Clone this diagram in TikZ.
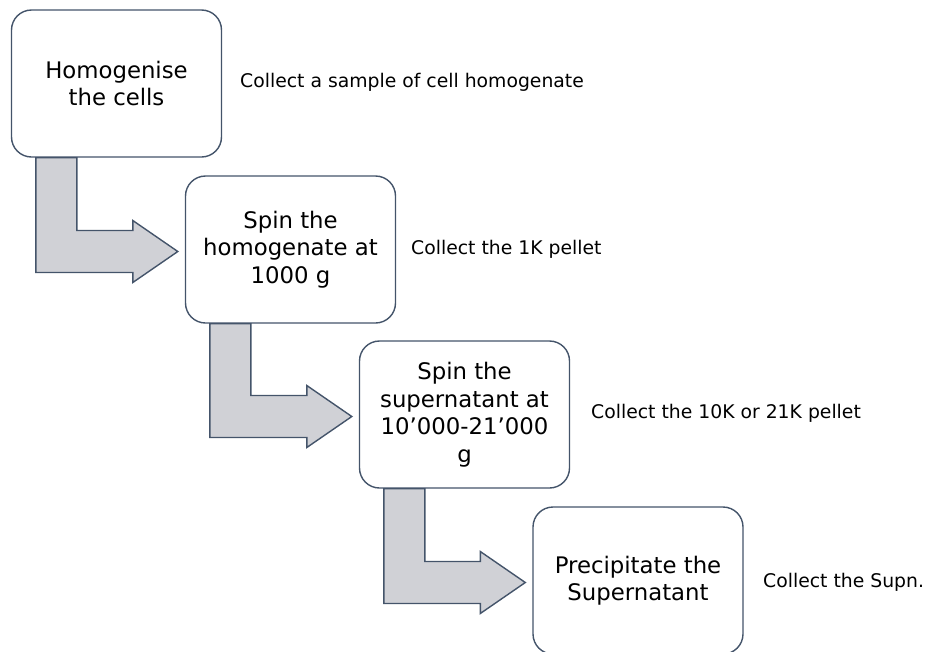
\documentclass[tikz,border=0pt]{standalone}
\usepackage{fontspec}
\setmainfont{DejaVu Sans}
\usetikzlibrary{calc}
\definecolor{edge}{HTML}{44546A}
\definecolor{arrowfill}{HTML}{D0D1D6}
\definecolor{ink}{HTML}{000000}
\tikzset{
  stepbox/.style={draw=edge, line width=1.4pt, fill=white, rounded corners=20pt,
    minimum width=210pt, minimum height=147pt, align=center, text=ink,
    font=\fontsize{22.8}{27.5}\selectfont, inner sep=0pt},
  flowarrow/.style={draw=edge, line width=1.4pt, fill=arrowfill, line join=miter},
  note/.style={anchor=west, text=ink, font=\fontsize{18.8}{22}\selectfont, inner sep=0pt}
}
% bent block arrow from the bottom of box #1 to the west side of box #2
\newcommand{\bendarrow}[2]{%
  \draw[flowarrow] let \p1=(#1.south west), \p2=(#2.west) in
    (\x1+25pt,\y1) -- (\x1+66pt,\y1) -- (\x1+66pt,\y2+19pt) -- (\x2-52pt,\y2+19pt)
    -- (\x2-52pt,\y2+29pt) -- (\x2-7pt,\y2-2pt) -- (\x2-52pt,\y2-33pt)
    -- (\x2-52pt,\y2-23pt) -- (\x1+25pt,\y2-23pt) -- cycle;}
\begin{document}
\begin{tikzpicture}[x=1pt, y=-1pt]
\useasboundingbox (0,0) rectangle (926,651);

\node[stepbox] (homog) at (116.5,83.5) {Homogenise\\the cells};
\node[stepbox] (spinA) at (290.5,249.5) {Spin the\\homogenate at\\1000 g};
\node[stepbox] (spinB) at (464.5,414.5) {Spin the\\supernatant at\\10’000-21’000\\g};
\node[stepbox] (precip) at (638,580.5) {Precipitate the\\Supernatant};

\bendarrow{homog}{spinA}
\bendarrow{spinA}{spinB}
\bendarrow{spinB}{precip}

\node[note] (n1) at (240,82) {Collect a sample of cell homogenate};
\node[note] (n2) at (411,249) {Collect the 1K pellet};
\node[note] (n3) at (591,413) {Collect the 10K or 21K pellet};
\node[note] (n4) at (763,582) {Collect the Supn.};
\end{tikzpicture}
\end{document}
